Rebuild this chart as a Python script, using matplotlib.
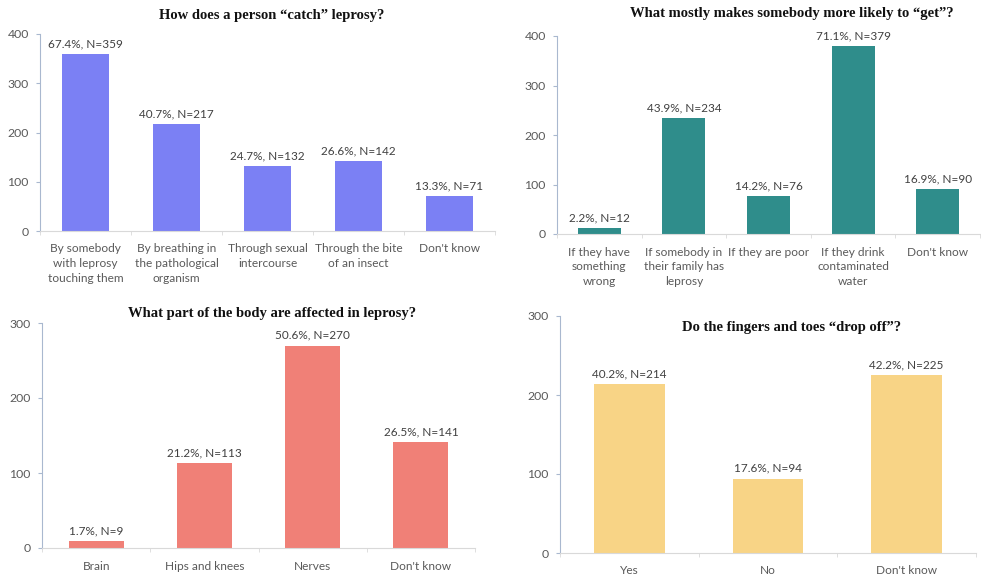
import matplotlib
matplotlib.use("Agg")
import matplotlib.pyplot as plt
from matplotlib.ticker import FixedLocator

# --- data ---
catch_labels = ["By somebody\nwith leprosy\ntouching them", "By breathing in\nthe pathological\norganism",
                "Through sexual\nintercourse", "Through the bite\nof an insect", "Don't know"]
catch_counts = [359, 217, 132, 142, 71]
catch_pct = [67.4, 40.7, 24.7, 26.6, 13.3]

likely_labels = ["If they have\nsomething\nwrong", "If somebody in\ntheir family has\nleprosy",
                 "If they are poor", "If they drink\ncontaminated\nwater", "Don't know"]
likely_counts = [12, 234, 76, 379, 90]
likely_pct = [2.2, 43.9, 14.2, 71.1, 16.9]

body_labels = ["Brain", "Hips and knees", "Nerves", "Don't know"]
body_counts = [9, 113, 270, 141]
body_pct = [1.7, 21.2, 50.6, 26.5]

drop_labels = ["Yes", "No", "Don't know"]
drop_counts = [214, 94, 225]
drop_pct = [40.2, 17.6, 42.2]

W, H = 981, 577
plt.rcParams["font.family"] = ["Lato", "DejaVu Sans"]

# panel boxes in pixels: left, right, top (ymax), bottom (y=0)
PANELS = [
    dict(box=(40, 495, 34, 231), ymax=400, labels=catch_labels, counts=catch_counts, pct=catch_pct,
         color="#7b80f4", title="How does a person \u201ccatch\u201d leprosy?", tpos=(272, 15)),
    dict(box=(557, 980, 36, 234), ymax=400, labels=likely_labels, counts=likely_counts, pct=likely_pct,
         color="#2f8d8b", title="What mostly makes somebody more likely to \u201cget\u201d?", tpos=(792, 14)),
    dict(box=(42, 475, 323, 548), ymax=300, labels=body_labels, counts=body_counts, pct=body_pct,
         color="#f08077", title="What part of the body are affected in leprosy?", tpos=(272, 314)),
    dict(box=(560, 976, 316, 553), ymax=300, labels=drop_labels, counts=drop_counts, pct=drop_pct,
         color="#f8d486", title="Do the fingers and toes \u201cdrop off\u201d?", tpos=(792, 328)),
]


def draw_panel(fig, p):
    l, r, t, b = p["box"]
    ax = fig.add_axes([l / W, 1 - b / H, (r - l) / W, (b - t) / H])
    n = len(p["counts"])
    x = list(range(n))
    ax.bar(x, p["counts"], width=0.51, color=p["color"], zorder=2)
    ax.set_xlim(-0.5, n - 0.5)
    ax.set_ylim(0, p["ymax"])
    ax.set_yticks(range(0, p["ymax"] + 1, 100))
    ax.set_xticks(x)
    ax.set_xticklabels(p["labels"], fontsize=8.6, color="#5a5a5a", linespacing=1.4)
    ax.xaxis.set_minor_locator(FixedLocator([i + 0.5 for i in range(-1, n)]))
    ax.tick_params(axis="x", which="major", length=0, pad=9)
    ax.tick_params(axis="x", which="minor", length=3, color="#d9d9d9")
    ax.tick_params(axis="y", labelsize=8.8, labelcolor="#5a5a5a", length=3, color="#a9b8cf", pad=5)
    for s in ("top", "right"):
        ax.spines[s].set_visible(False)
    ax.spines["left"].set_color("#a9b8cf")
    ax.spines["bottom"].set_color("#d9d9d9")
    ax.set_facecolor("none")

    for xi, c, pc in zip(x, p["counts"], p["pct"]):
        ax.annotate(f"{pc}%, N={c}", (xi, c), xytext=(0, 3.5), textcoords="offset points",
                    ha="center", va="bottom", fontsize=8.5, color="#404040")

    fig.text(p["tpos"][0] / W, 1 - p["tpos"][1] / H, p["title"], ha="center", va="center",
             fontsize=10.5, fontweight="bold", family="Liberation Serif", color="#111111")


def main():
    fig = plt.figure(figsize=(W / 100, H / 100), dpi=100)
    for p in PANELS:
        draw_panel(fig, p)
    fig.savefig("out.png", dpi=100)


if __name__ == "__main__":
    main()
